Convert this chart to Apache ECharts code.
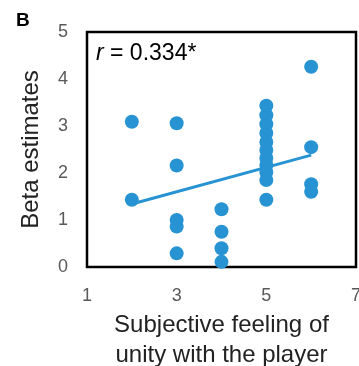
<!DOCTYPE html>
<html><head><meta charset="utf-8">
<script src="https://cdn.jsdelivr.net/npm/echarts@6/dist/echarts.min.js"></script>
<style>html,body{margin:0;padding:0;background:#fff}#c{width:359px;height:366px}</style>
</head><body><div id="c"></div>
<script>
var xTicks = [1, 3, 5, 7];
var yTicks = [0, 1, 2, 3, 4, 5];
var unityX = [2, 2, 3, 3, 3, 3, 3, 4, 4, 4, 4, 5, 5, 5, 5, 5, 5, 5, 5, 5, 5, 5, 6, 6, 6, 6];
var betaY  = [3.09, 1.43, 3.06, 2.16, 1.0, 0.86, 0.29, 1.23, 0.75, 0.40, 0.11,
              3.43, 3.23, 3.04, 2.85, 2.66, 2.49, 2.32, 2.17, 2.02, 1.85, 1.43,
              4.26, 2.55, 1.76, 1.60];
var fitX = [2, 6];
var fitY = [1.34, 2.38];
var blue = '#2893D3';
var chart = echarts.init(document.getElementById('c'));
chart.setOption({
  animation: false,
  grid: {left: 87, right: 3, top: 32, bottom: 99, show: true, borderColor: '#000', borderWidth: 2.5, backgroundColor: 'transparent', outerBoundsMode: 'none', containLabel: false},
  xAxis: {
    type: 'value', min: 1, max: 7, interval: 2,
    axisLine: {show: false}, axisTick: {show: false}, splitLine: {show: false},
    axisLabel: {color: '#595959', fontSize: 18, fontFamily: 'Liberation Sans', margin: 20,
      formatter: function(v){ return xTicks.indexOf(v) >= 0 ? String(v) : ''; }},
    name: 'Subjective feeling of\nunity with the player', nameLocation: 'middle', nameGap: 41,
    nameTextStyle: {color: '#222', fontSize: 24, fontFamily: 'Liberation Sans', lineHeight: 30}
  },
  yAxis: {
    type: 'value', min: 0, max: 5, interval: 1,
    axisLine: {show: false}, axisTick: {show: false}, splitLine: {show: false},
    axisLabel: {color: '#595959', fontSize: 18, fontFamily: 'Liberation Sans', margin: 19,
      formatter: function(v){ return yTicks.indexOf(v) >= 0 ? String(v) : ''; }},
    name: 'Beta estimates', nameLocation: 'middle', nameGap: 44,
    nameTextStyle: {color: '#222', fontSize: 24, fontFamily: 'Liberation Sans'}
  },
  graphic: [
    {type: 'text', left: 16, top: 11, style: {text: 'B', font: 'bold 19px "Liberation Sans"', fill: '#000'}},
    {type: 'text', left: 96, top: 42, style: {rich: {i: {fontStyle: 'italic', fontSize: 23, fontFamily: 'Liberation Sans', fill: '#000'}, n: {fontSize: 23, fontFamily: 'Liberation Sans', fill: '#000'}}, text: '{i|r}{n| = 0.334*}'}}
  ],
  series: [
    {type: 'line', data: fitX.map(function(x, i){ return [x, fitY[i]]; }), symbol: 'none',
     lineStyle: {color: blue, width: 3}, z: 2},
    {type: 'scatter', data: unityX.map(function(x, i){ return [x, betaY[i]]; }),
     symbolSize: 14, itemStyle: {color: blue, opacity: 1}, z: 3}
  ]
});
</script></body></html>
